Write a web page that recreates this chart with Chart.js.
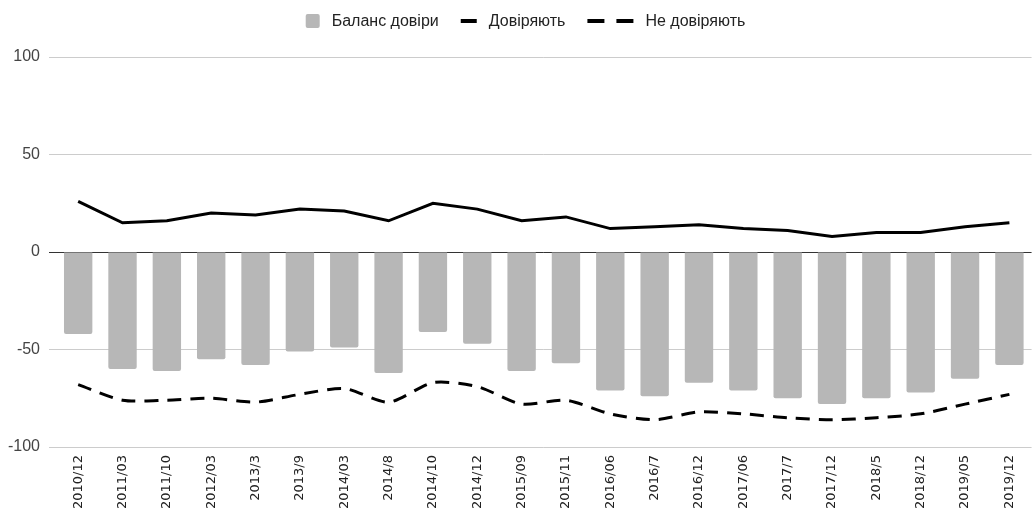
<!DOCTYPE html>
<html>
<head>
<meta charset="utf-8">
<script src="https://cdn.jsdelivr.net/npm/chart.js@4/dist/chart.umd.min.js"></script>
<style>
  body { margin: 0; background: #fff; }
  #wrap { width: 1033px; height: 513px; }
</style>
</head>
<body>
<div id="wrap"><canvas id="myChart"></canvas></div>
<script>
const categories = ['2010/12', '2011/03', '2011/10', '2012/03', '2013/3', '2013/9', '2014/03', '2014/8',
  '2014/10', '2014/12', '2015/09', '2015/11', '2016/06', '2016/7', '2016/12', '2017/06', '2017/7',
  '2017/12', '2018/5', '2018/12', '2019/05', '2019/12'];
const balance = [-42, -60, -61, -55, -58, -51, -49, -62, -41, -47, -61, -57, -71, -74, -67, -71, -75, -78, -75, -72, -65, -58];
const trust = [26, 15, 16, 20, 19, 22, 21, 16, 25, 22, 16, 18, 12, 13, 14, 12, 11, 8, 10, 10, 13, 15];
const distrust = [-68, -76, -76, -75, -77, -73, -70, -77, -67, -69, -78, -76, -83, -86, -82, -83, -85, -86, -85, -83, -78, -73];
const yTicks = [-100, -50, 0, 50, 100];

const FONT = '"Liberation Sans", Arial, sans-serif';

// legend drawn by hand so the icons match (box, solid line, two dashes)
const topLegend = {
  id: 'topLegend',
  afterDraw(chart) {
    const ctx = chart.ctx;
    const sets = chart.data.datasets;
    const kinds = ['box', 'line', 'dash'];
    const iconW = { box: 14, line: 16, dash: 46 };
    ctx.save();
    ctx.font = '16px ' + FONT;
    ctx.textBaseline = 'middle';
    let total = 0;
    sets.forEach((ds, i) => {
      total += iconW[kinds[i]] + 12 + ctx.measureText(ds.label).width;
    });
    total += 22 * (sets.length - 1);
    let x = chart.width / 2 + 9 - total / 2;
    const y = 21;
    sets.forEach((ds, i) => {
      const k = kinds[i];
      if (k === 'box') {
        ctx.fillStyle = '#b7b7b7';
        ctx.beginPath();
        ctx.roundRect(x, y - 7, 14, 14, 2);
        ctx.fill();
      } else {
        ctx.fillStyle = '#000';
        if (k === 'line') {
          ctx.fillRect(x, y - 2, 16, 4);
        } else {
          ctx.fillRect(x, y - 2, 17, 4);
          ctx.fillRect(x + 29, y - 2, 17, 4);
        }
      }
      x += iconW[k] + 12;
      ctx.fillStyle = '#222';
      ctx.fillText(ds.label, x, y + 1);
      x += ctx.measureText(ds.label).width + 22;
    });
    ctx.restore();
  }
};

new Chart(document.getElementById('myChart'), {
  data: {
    labels: categories,
    datasets: [
      {
        type: 'bar',
        label: 'Баланс довіри',
        data: balance,
        backgroundColor: '#b7b7b7',
        borderRadius: 2,
        barPercentage: 0.64,
        categoryPercentage: 1,
        order: 3
      },
      {
        type: 'line',
        label: 'Довіряють',
        data: trust,
        borderColor: '#000',
        borderWidth: 3,
        pointRadius: 0,
        tension: 0,
        order: 1
      },
      {
        type: 'line',
        label: 'Не довіряють',
        data: distrust,
        borderColor: '#000',
        borderWidth: 3,
        borderDash: [14, 9],
        pointRadius: 0,
        tension: 0.25,
        order: 2
      }
    ]
  },
  options: {
    responsive: true,
    maintainAspectRatio: false,
    animation: false,
    layout: { padding: { top: 57, left: 0, right: 0, bottom: 0 } },
    plugins: {
      legend: { display: false },
      tooltip: { enabled: false }
    },
    scales: {
      x: {
        grid: { display: false, drawTicks: false },
        border: { display: false },
        ticks: {
          minRotation: 90,
          maxRotation: 90,
          autoSkip: false,
          padding: 8,
          color: '#222',
          font: { family: '"DejaVu Sans", sans-serif', size: 13 }
        },
        afterFit(scale) { scale.height = 66; }
      },
      y: {
        min: -100,
        max: 100,
        border: { display: false },
        grid: {
          color: c => (c.tick && c.tick.value === 0 ? '#333' : '#ccc'),
          drawTicks: true,
          tickLength: 7
        },
        ticks: {
          padding: 9,
          color: '#444',
          font: { family: FONT, size: 16 }
        },
        afterBuildTicks(scale) { scale.ticks = yTicks.map(v => ({ value: v })); },
        afterFit(scale) { scale.width = 56; }
      }
    }
  },
  plugins: [topLegend]
});
</script>
</body>
</html>
